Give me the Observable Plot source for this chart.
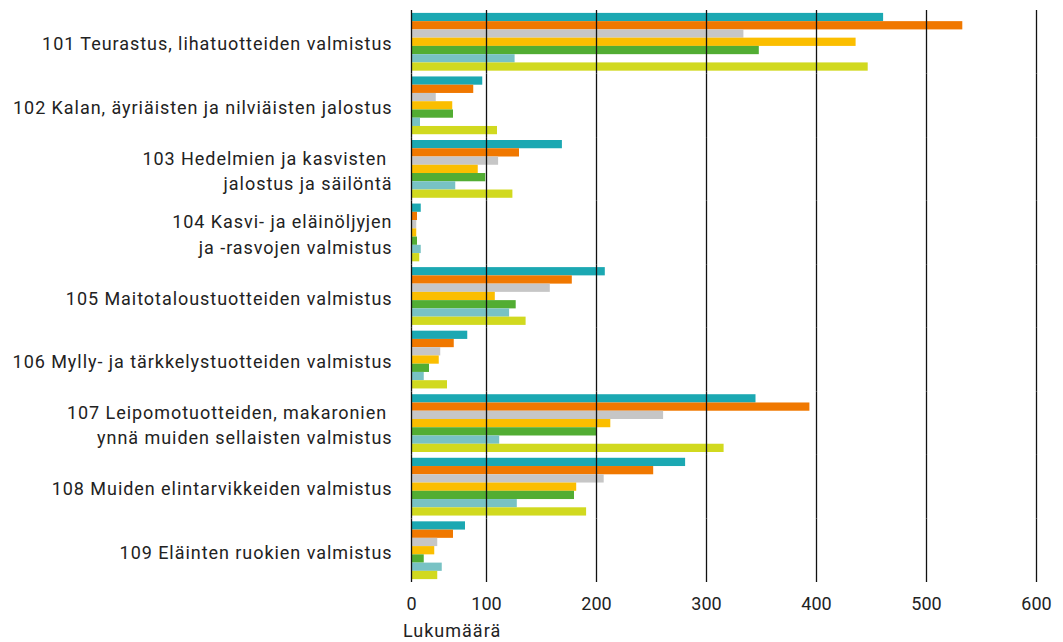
<!DOCTYPE html>
<html>
<head>
<meta charset="utf-8">
<script src="https://cdn.jsdelivr.net/npm/d3@7"></script>
<script src="https://cdn.jsdelivr.net/npm/@observablehq/plot@0.6"></script>
<style>
  html, body { margin: 0; padding: 0; background: #fff; }
  #chart { position: relative; width: 1063px; height: 642px; }
  #caption { position: absolute; left: 403px; top: 620px; font-family: Roboto, sans-serif; font-size: 18px; line-height: 22px; color: #222; letter-spacing: 1px; }
  g[aria-label="fy-axis tick label"] text { letter-spacing: 0.95px; }
</style>
</head>
<body>
<div id="chart"><div id="caption">Lukumäärä</div></div>
<script>
const categories = ["101", "102", "103", "104", "105", "106", "107", "108", "109"];
const categoryLabels = [
  "101 Teurastus, lihatuotteiden valmistus",
  "102 Kalan, äyriäisten ja nilviäisten jalostus",
  "103 Hedelmien ja kasvisten \njalostus ja säilöntä",
  "104 Kasvi- ja eläinöljyjen\nja -rasvojen valmistus",
  "105 Maitotaloustuotteiden valmistus",
  "106 Mylly- ja tärkkelystuotteiden valmistus",
  "107 Leipomotuotteiden, makaronien \nynnä muiden sellaisten valmistus",
  "108 Muiden elintarvikkeiden valmistus",
  "109 Eläinten ruokien valmistus"
];
const seriesNames = ["Sarja 1", "Sarja 2", "Sarja 3", "Sarja 4", "Sarja 5", "Sarja 6", "Sarja 7"];
const seriesColors = ["#1ba8b2", "#f07800", "#c6c6c6", "#fbbe00", "#52ad33", "#78c2c4", "#d1d91f"];

const series1 = [461, 95, 169, 13, 208, 75, 345, 281, 72];
const series2 = [533, 83, 130, 8, 178, 57, 394, 252, 56];
const series3 = [334, 33, 111, 7, 158, 39, 261, 207, 35];
const series4 = [436, 55, 89, 7, 108, 37, 213, 182, 31];
const series5 = [348, 56, 99, 8, 127, 24, 200, 180, 17];
const series6 = [126, 12, 59, 13, 121, 17, 112, 128, 41];
const series7 = [447, 110, 124, 11, 136, 48, 316, 191, 35];

const xTicks = [0, 100, 200, 300, 400, 500, 600];

const allSeries = [series1, series2, series3, series4, series5, series6, series7];
const data = [];
categories.forEach((c, i) => {
  allSeries.forEach((s, j) => {
    data.push({cat: c, series: seriesNames[j], value: s[i]});
  });
});
const labelOf = new Map(categories.map((c, i) => [c, categoryLabels[i]]));

const plot = Plot.plot({
  width: 1063,
  height: 622,
  marginLeft: 411,
  marginRight: 27,
  marginTop: 10,
  marginBottom: 40,
  style: {fontFamily: "Roboto, sans-serif", fontSize: "18px", color: "#222", background: "#fff"},
  x: {type: "linear", domain: [0, 100, 600], range: [411, 486, 1036]},
  fy: {domain: categories, padding: 0, round: false},
  y: {domain: seriesNames, paddingInner: 0, paddingOuter: 0.35, round: false, axis: null},
  color: {domain: seriesNames, range: seriesColors},
  marks: [
    Plot.barX(data, {x: "value", y: "series", fy: "cat", fill: "series", insetTop: 0, insetBottom: 0}),
    Plot.gridX(xTicks, {stroke: "#111", strokeOpacity: 1, strokeWidth: 1.3}),
    Plot.axisX(xTicks, {tickSize: 0, tickPadding: 15, fontSize: 18, label: null, tickFormat: d => String(d)}),
    Plot.axisFy({anchor: "left", tickSize: 0, tickPadding: 19, fontSize: 18, lineHeight: 1.4, label: null, tickFormat: d => labelOf.get(d)})
  ]
});
document.getElementById("chart").prepend(plot);
</script>
</body>
</html>
